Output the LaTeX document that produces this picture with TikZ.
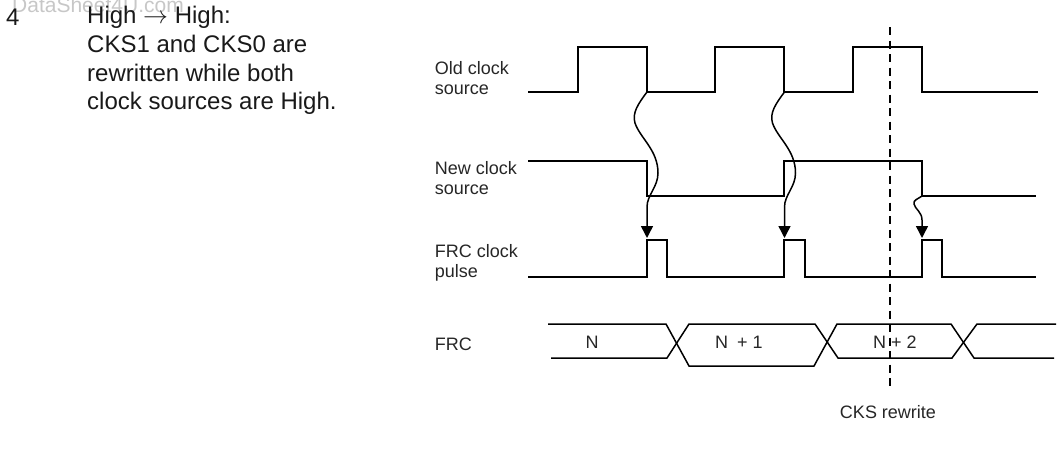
\documentclass[tikz,border=0pt]{standalone}
\usepackage{fontspec}
\setmainfont{Liberation Sans}
\usetikzlibrary{arrows.meta}
\tikzset{
  trace/.style={line width=1.5pt, line join=miter},
  cause/.style={line width=1.5pt, -{Triangle[length=12pt,width=12pt]}},
  siglabel/.style={anchor=west, inner sep=0pt, font=\fontsize{18}{20}\selectfont, align=left, text=black!85},
  buslabel/.style={inner sep=0pt, font=\fontsize{18}{20}\selectfont, text=black!85},
  notetext/.style={anchor=west, inner sep=0pt, font=\fontsize{24}{28.7}\selectfont, align=left, text=black!90}
}
\begin{document}
\begin{tikzpicture}[x=1pt,y=-1pt]
  \useasboundingbox (0,0) rectangle (1063,450);

  \node[anchor=base west, inner sep=0pt, text=black!22, font=\fontsize{21}{21}\selectfont] (mark) at (12,12) {DataSheet4U.com};
  \node[anchor=base west, inner sep=0pt, font=\fontsize{24}{24}\selectfont, text=black!90] (num) at (6,25) {4};
  \node[notetext] (note) at (87,60.5) {High $\rightarrow$ High:\\CKS1 and CKS0 are\\rewritten while both\\clock sources are High.};

  % signal names
  \node[siglabel] (oldname) at (434.7,78) {Old clock\\source};
  \node[siglabel] (newname) at (434.7,178) {New clock\\source};
  \node[siglabel] (pulsename) at (434.7,263) {FRC clock\\pulse};
  \node[siglabel] (frcname) at (434.7,344) {FRC};

  % waveforms
  \draw[trace] (528,92) -- (578,92) -- (578,47) -- (647,47) -- (647,92) -- (715,92) -- (715,47)
    -- (784,47) -- (784,92) -- (853,92) -- (853,47) -- (922,47) -- (922,92) -- (1038,92);
  \draw[trace] (528,161) -- (647,161) -- (647,196) -- (784,196) -- (784,161) -- (922,161)
    -- (922,196) -- (1036,196);
  \draw[trace] (528,277) -- (647,277) -- (647,240) -- (667,240) -- (667,277) -- (784,277) -- (784,240)
    -- (805,240) -- (805,277) -- (922,277) -- (922,240) -- (942,240) -- (942,277) -- (1036,277);

  % bus
  \draw[trace] (548,324) -- (666,324) -- (689,366) -- (814,366) -- (837,324) -- (951,324)
    -- (974,358) -- (1054,358);
  \draw[trace] (551,358) -- (667,358) -- (689,324) -- (815,324) -- (838,358) -- (952,358)
    -- (977,324) -- (1056,324);
  \node[buslabel] (valn) at (592,342) {N};
  \node[buslabel] (valn1) at (739,342) {N\enspace + 1};
  \node[buslabel] (valn2) at (895,342) {N + 2};

  % rewrite marker
  \coordinate (marktop) at (889.7,27);
  \coordinate (markend) at (889.7,387);
  \draw[line width=1.7pt, dash pattern=on 8pt off 5.5pt] (marktop) -- (markend);
  \node[buslabel] (rewrite) at (888,412) {CKS rewrite};

  % causes
  \coordinate (fall1) at (647,92);
  \coordinate (fall2) at (784.5,92);
  \coordinate (fall3) at (922,196);
  \coordinate (rise1) at (647,238);
  \coordinate (rise2) at (784.5,238);
  \coordinate (rise3) at (922,238);
  \draw[cause] (fall1) .. controls (638,104) and (632,113) .. (635,123)
    .. controls (640,138) and (658,150) .. (658,173)
    .. controls (658,187) and (647,195) .. (647,207) -- (rise1);
  \draw[cause] (fall2) .. controls (775.5,104) and (769.5,113) .. (772.5,123)
    .. controls (777.5,138) and (795.5,150) .. (795.5,173)
    .. controls (795.5,187) and (784.5,195) .. (784.5,207) -- (rise2);
  \draw[cause] (fall3) .. controls (918,199) and (913,200) .. (914,204)
    .. controls (915,209) and (922,212) .. (922,220) -- (rise3);
\end{tikzpicture}
\end{document}
